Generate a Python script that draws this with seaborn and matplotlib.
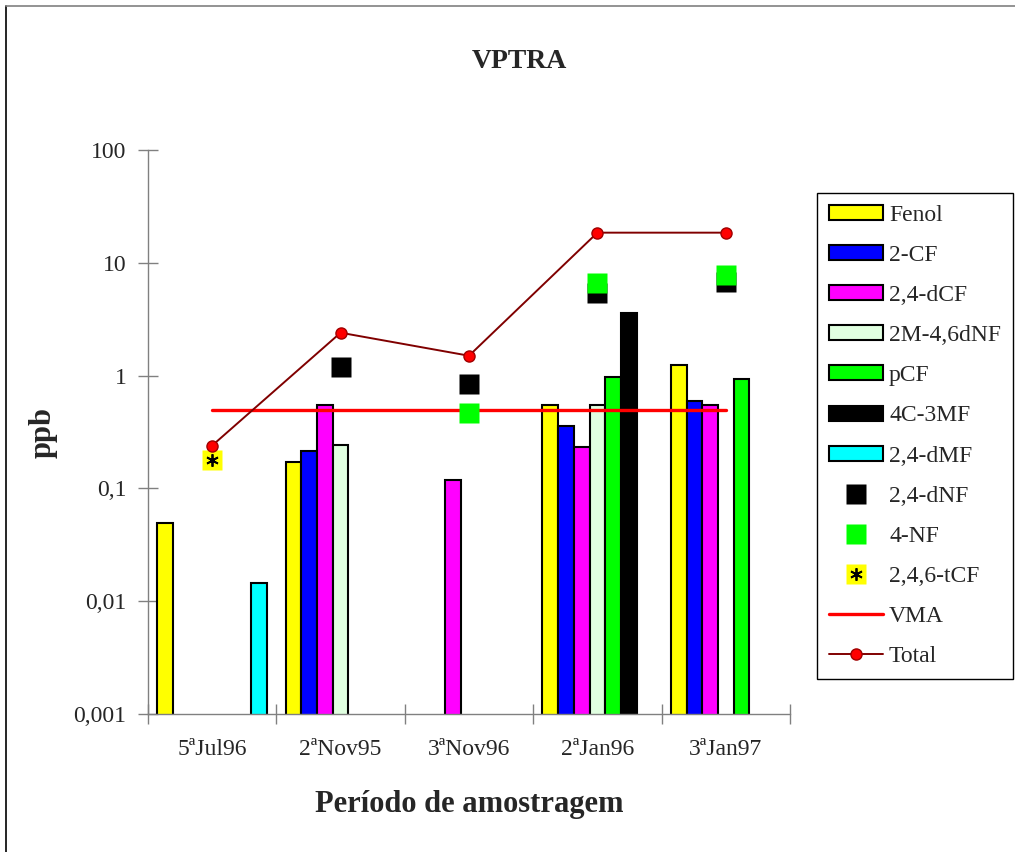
import numpy as np
import pandas as pd
import seaborn as sns
import matplotlib.pyplot as plt
from matplotlib.patches import Patch
from matplotlib.lines import Line2D

# sampling periods
periods = ['5ªJul96', '2ªNov95', '3ªNov96', '2ªJan96', '3ªJan97']

# bar series (ppb), nan = not detected
fenol = [0.049, 0.17, np.nan, 0.55, 1.25]
cf2 = [np.nan, 0.215, np.nan, 0.355, 0.59]
dcf24 = [np.nan, 0.55, 0.118, 0.235, 0.55]
m2dnf46 = [np.nan, 0.245, np.nan, 0.55, np.nan]
pcf = [np.nan, np.nan, np.nan, 0.98, 0.94]
c4mf3 = [np.nan, np.nan, np.nan, 3.6, np.nan]
dmf24 = [0.0145, np.nan, np.nan, np.nan, np.nan]

# point series
dnf24 = [np.nan, 1.2, 0.85, 5.4, 6.8]
nf4 = [np.nan, np.nan, 0.47, 6.6, 7.8]
tcf246 = [0.18, np.nan, np.nan, np.nan, np.nan]

vma = [0.5, 0.5, 0.5, 0.5, 0.5]
total = [0.24, 2.4, 1.5, 18.5, 18.5]

bar_names = ['Fenol', '2-CF', '2,4-dCF', '2M-4,6dNF', 'pCF', '4C-3MF', '2,4-dMF']
bar_values = [fenol, cf2, dcf24, m2dnf46, pcf, c4mf3, dmf24]
bar_colors = ['#FFFF00', '#0000FF', '#FF00FF', '#E0FFE0', '#00FF00', '#000000', '#00FFFF']

rows = []
for name, vals in zip(bar_names, bar_values):
    for p, v in zip(periods, vals):
        rows.append({'periodo': p, 'composto': name, 'ppb': v})
df = pd.DataFrame(rows)

sns.set_style('white')
plt.rcParams['font.family'] = ['Liberation Serif', 'DejaVu Serif']

fig = plt.figure(figsize=(10.15, 8.52), dpi=100)
ax = fig.add_axes([148 / 1015, 1 - 714 / 852, 642 / 1015, 564 / 852])

sns.barplot(data=df, x='periodo', y='ppb', hue='composto', order=periods,
            hue_order=bar_names, palette=bar_colors, width=0.857, gap=0,
            errorbar=None, edgecolor='black', linewidth=1.5, saturation=1,
            legend=False, ax=ax)
ax.set_yscale('log')

x = np.arange(len(periods))
ax.plot(x, dnf24, 's', color='black', ms=14.4, mec='none', zorder=5)
ax.plot(x, nf4, 's', color='#00FF00', ms=14.4, mec='none', zorder=6)
ax.plot(x, tcf246, 's', color='#FFFF00', ms=14.4, mec='none', zorder=5)
ax.plot(x, tcf246, marker=(6, 2, 0), ls='none', color='black', ms=9, mew=1.3, zorder=6)
ax.plot(x, vma, color='#FF0000', lw=2.4, zorder=4)
ax.plot(x, total, color='#800000', lw=1.4, marker='o', ms=8,
        mfc='#FF0000', mec='#A00000', zorder=7)

ax.set_ylim(0.001, 100)
ax.set_xlim(-0.5, 4.5)
ax.set_yticks([0.001, 0.01, 0.1, 1, 10, 100])
ax.set_yticklabels(['0,001', '0,01', '0,1', '1', '10', '100'])
ax.yaxis.set_minor_locator(plt.NullLocator())
ax.set_xticks(np.arange(-0.5, 5, 1))
ax.set_xticklabels([])
ax.set_xticks(x, minor=True)
ax.set_xticklabels(periods, minor=True)
ax.tick_params(axis='both', which='major', direction='inout', length=15,
               color='#808080', width=1, labelsize=17)
ax.tick_params(axis='y', pad=8, left=True)
ax.tick_params(axis='x', which='major', bottom=True)
ax.tick_params(axis='x', which='minor', length=0, pad=18, labelsize=17)

for s in ['top', 'right']:
    ax.spines[s].set_visible(False)
for s in ['left', 'bottom']:
    ax.spines[s].set_color('#808080')
    ax.spines[s].set_linewidth(1)

ax.set_xlabel('Período de amostragem', fontsize=22, fontweight='bold')
ax.set_ylabel('ppb', fontsize=22, fontweight='bold')
ax.xaxis.set_label_coords(0.5, -0.135)
ax.yaxis.set_label_coords(-0.14, 0.5)

fig.text(519 / 1015, 1 - 62 / 852, 'VPTRA', ha='center', va='center',
         fontsize=20, fontweight='bold')

handles = [Patch(facecolor=c, edgecolor='black', linewidth=1.5) for c in bar_colors]
handles.append(Line2D([], [], ls='none', marker='s', color='black', ms=14.4, mec='none'))
handles.append(Line2D([], [], ls='none', marker='s', color='#00FF00', ms=14.4, mec='none'))
handles.append((Line2D([], [], ls='none', marker='s', color='#FFFF00', ms=14.4, mec='none'),
                Line2D([], [], ls='none', marker=(6, 2, 0), color='black', ms=9, mew=1.3)))
handles.append(Line2D([], [], color='#FF0000', lw=2.4))
handles.append(Line2D([], [], color='#800000', lw=1.4, marker='o', ms=8,
                      mfc='#FF0000', mec='#A00000'))
labels = bar_names + ['2,4-dNF', '4-NF', '2,4,6-tCF', 'VMA', 'Total']
leg = fig.legend(handles, labels, loc='upper left',
                 bbox_to_anchor=(817 / 1015, 1 - 193 / 852), fontsize=17,
                 frameon=True, fancybox=False, framealpha=1, edgecolor='black',
                 handlelength=2.3, handleheight=0.6, handletextpad=0.25,
                 labelspacing=0.81, borderpad=0.5, borderaxespad=0)
leg.get_frame().set_linewidth(1)

# page border (left and top)
fig.add_artist(Line2D([6 / 1015, 6 / 1015], [0, 1 - 6 / 852], color='black', lw=1.2,
                      transform=fig.transFigure))
fig.add_artist(Line2D([6 / 1015, 1], [1 - 6 / 852, 1 - 6 / 852], color='#808080', lw=1.2,
                      transform=fig.transFigure))

fig.savefig('out.png', dpi=100)
